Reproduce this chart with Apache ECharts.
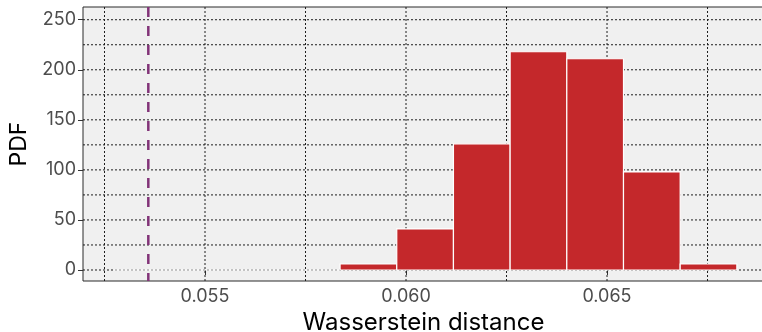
<!DOCTYPE html>
<html>
<head>
<meta charset="utf-8">
<script src="https://cdn.jsdelivr.net/npm/echarts@6/dist/echarts.min.js"></script>
<style>
  html, body { margin: 0; padding: 0; background: #fff; }
  #chart { width: 762px; height: 332px; }
</style>
</head>
<body>
<div id="chart"></div>
<script>
// Histogram bin edges (Wasserstein distance) and density per bin
const binEdges = [0.05272, 0.05413, 0.05554, 0.05695, 0.05836, 0.05977,
                  0.06118, 0.06259, 0.06400, 0.06541, 0.06682, 0.06823];
const density = [0, 0, 0, 0, 6, 41, 126, 218, 211, 98, 6];

// Observed value marked by the dashed line
const observed = [0.05359];

// Tick labels and grid positions
const xTickValues = [0.055, 0.060, 0.065];
const xGridValues = [0.0525, 0.055, 0.0575, 0.060, 0.0625, 0.065, 0.0675];
const yTickValues = [0, 50, 100, 150, 200, 250];
const yGridValues = [0, 25, 50, 75, 100, 125, 150, 175, 200, 225, 250];

const histData = density.map((d, i) => [binEdges[i], binEdges[i + 1], d]);

const FONT = 'Inter, "Liberation Sans", Arial, sans-serif';

// Full-height vertical line through x = value
function vLine(style) {
  return function (params, api) {
    const cs = params.coordSys;
    const x = api.coord([api.value(0), 0])[0];
    return {
      type: 'line',
      shape: { x1: x, y1: cs.y, x2: x, y2: cs.y + cs.height },
      style: style
    };
  };
}
// Full-width horizontal line through y = value
function hLine(style) {
  return function (params, api) {
    const cs = params.coordSys;
    const y = api.coord([0.06, api.value(0)])[1];
    return {
      type: 'line',
      shape: { x1: cs.x, y1: y, x2: cs.x + cs.width, y2: y },
      style: style
    };
  };
}

const dotted = { stroke: '#1e1e1e', lineWidth: 1, lineDash: [2, 2] };

const chart = echarts.init(document.getElementById('chart'), null, { renderer: 'canvas' });

chart.setOption({
  animation: false,
  backgroundColor: '#ffffff',
  grid: {
    left: 83, right: -2, top: 7, bottom: 51,
    containLabel: false,
    outerBoundsMode: 'none',
    show: true,
    backgroundColor: '#F0F0F0',
    borderColor: '#2a2a2a',
    borderWidth: 1
  },
  xAxis: {
    type: 'value',
    min: 0.0519652,
    max: 0.068905,
    name: 'Wasserstein distance',
    nameLocation: 'middle',
    nameGap: 18,
    nameTextStyle: { fontFamily: FONT, fontSize: 24, color: '#000' },
    axisLine: { show: false },
    splitLine: { show: false },
    axisTick: {
      show: true, length: 5, inside: false,
      customValues: xTickValues,
      lineStyle: { color: '#333', width: 1 }
    },
    axisLabel: {
      customValues: xTickValues,
      margin: 7,
      fontFamily: FONT, fontSize: 18, color: '#4D4D4D',
      formatter: v => v.toFixed(3)
    }
  },
  yAxis: {
    type: 'value',
    min: -11,
    max: 262.7,
    name: 'PDF',
    nameLocation: 'middle',
    nameGap: 52,
    nameRotate: 90,
    nameTextStyle: { fontFamily: FONT, fontSize: 23, color: '#000' },
    axisLine: { show: false },
    splitLine: { show: false },
    axisTick: {
      show: true, length: 5, inside: false,
      customValues: yTickValues,
      lineStyle: { color: '#333', width: 1 }
    },
    axisLabel: {
      customValues: yTickValues,
      margin: 7,
      fontFamily: FONT, fontSize: 18, color: '#4D4D4D'
    }
  },
  series: [
    {
      type: 'custom', name: 'xgrid', z: 1, silent: true,
      data: xGridValues.map(v => [v]),
      encode: { x: 0 },
      renderItem: vLine(dotted)
    },
    {
      type: 'custom', name: 'ygrid', z: 1, silent: true,
      data: yGridValues.map(v => [v]),
      encode: { y: 0 },
      renderItem: hLine(dotted)
    },
    {
      type: 'custom', name: 'density', z: 2,
      data: histData,
      encode: { x: [0, 1], y: 2 },
      renderItem: function (params, api) {
        const x0 = api.value(0), x1 = api.value(1), y = api.value(2);
        const pTop = api.coord([x0, y]);
        const pBase = api.coord([x1, 0]);
        return {
          type: 'rect',
          shape: {
            x: pTop[0], y: pTop[1],
            width: pBase[0] - pTop[0],
            height: pBase[1] - pTop[1]
          },
          style: {
            fill: y > 0 ? '#C4282B' : 'none',
            stroke: '#ffffff',
            lineWidth: 1.2
          }
        };
      }
    },
    {
      type: 'custom', name: 'observed', z: 6, silent: true,
      data: observed.map(v => [v]),
      encode: { x: 0 },
      renderItem: vLine({ stroke: '#823378', lineWidth: 2.5, lineDash: [10, 9] })
    }
  ]
});
</script>
</body>
</html>
